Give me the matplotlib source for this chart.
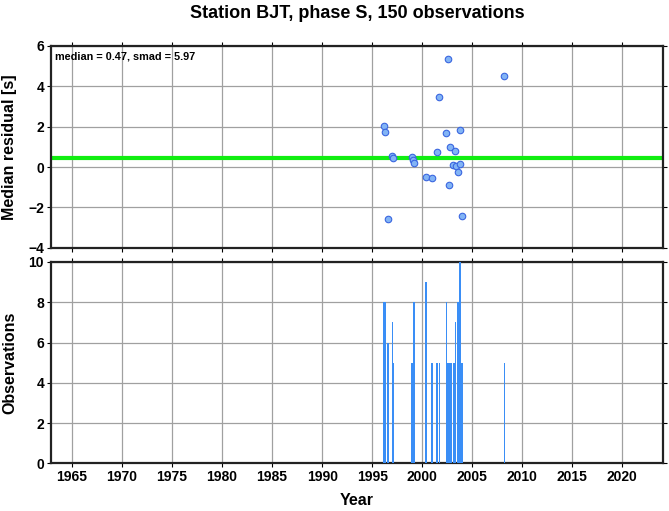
import numpy as np
import matplotlib
matplotlib.use("Agg")
from matplotlib import pyplot as plt

plt.rcParams['font.family'] = ['Liberation Sans', 'DejaVu Sans']
plt.rcParams['font.weight'] = 'bold'

# residuals (year, seconds)
res_year = [2002.6, 2008.2, 2001.73, 1996.2, 1996.26, 2002.43, 2003.8, 2001.5,
            2002.8, 2003.26, 1997.0, 1997.1, 1999.03, 1999.13, 1999.23, 2003.13,
            2003.36, 2003.76, 2003.6, 2000.36, 2001.0, 2002.73, 2004.0, 1996.6]
res_val = [5.36, 4.51, 3.47, 2.03, 1.75, 1.70, 1.84, 0.74,
           1.01, 0.79, 0.55, 0.45, 0.51, 0.35, 0.21, 0.12,
           0.04, 0.16, -0.23, -0.48, -0.53, -0.91, -2.43, -2.58]
median = 0.47
smad = 5.97

# observation counts
obs_year = [1996.15, 1996.25, 1996.56, 1997.03, 1997.08, 1999.0, 1999.2, 2000.4,
            2000.96, 2001.5, 2001.73, 2002.43, 2002.56, 2002.73, 2002.86, 2003.16,
            2003.33, 2003.56, 2003.76, 2003.9, 2004.03, 2008.23]
obs_count = [8, 8, 6, 7, 5, 5, 8, 9,
             5, 5, 5, 8, 5, 5, 5, 5,
             7, 8, 10, 5, 5, 5]

title = "Station BJT, phase S, 150 observations"
xmin, xmax = 1962.9, 2024.1

fig = plt.figure(figsize=(6.69, 5.11), dpi=100)
ax1 = fig.add_axes([0.0762, 0.5153, 0.9153, 0.3947])
ax2 = fig.add_axes([0.0762, 0.0933, 0.9153, 0.394])

for ax in (ax1, ax2):
    ax.set_xlim(xmin, xmax)
    ax.set_xticks(np.arange(1965, 2021, 5))
    ax.grid(True, color='#a0a0a0', lw=0.9)
    ax.set_axisbelow(True)
    ax.tick_params(direction='out', length=3, width=0.8, top=True, right=True,
                   labelsize=10, pad=2)
    for s in ax.spines.values():
        s.set_linewidth(1.6)
        s.set_color('#222222')

# top panel
ax1.set_ylim(-4, 6)
ax1.set_yticks([-4, -2, 0, 2, 4, 6])
ax1.set_xticklabels([])
ax1.axhline(median, color='#11ee11', lw=3, zorder=2)
ax1.scatter(res_year, res_val, s=22, facecolor='#82b4f5', edgecolor='#3a66e0',
            linewidth=0.8, zorder=3)
ax1.text(0.007, 0.975, "median = %.2f, smad = %.2f" % (median, smad),
         transform=ax1.transAxes, ha='left', va='top', fontsize=7.8,
         fontweight='bold')
ax1.set_ylabel("Median residual [s]", fontsize=11.5, fontweight='bold')
ax1.yaxis.set_label_coords(-0.055, 0.5)
ax1.set_title(title, fontsize=13, fontweight='bold', pad=20)

# bottom panel
ax2.set_ylim(0, 10)
ax2.set_yticks([0, 2, 4, 6, 8, 10])
ax2.bar(obs_year, obs_count, width=0.17, color='#3a8ef6', linewidth=0, zorder=3)
ax2.set_ylabel("Observations", fontsize=11.5, fontweight='bold')
ax2.yaxis.set_label_coords(-0.055, 0.5)
ax2.set_xlabel("Year", fontsize=11.5, fontweight='bold')
ax2.xaxis.set_label_coords(0.5, -0.145)
for lab in ax2.get_xticklabels() + ax2.get_yticklabels() + ax1.get_yticklabels():
    lab.set_fontweight('bold')

fig.savefig("out.png", dpi=100)
